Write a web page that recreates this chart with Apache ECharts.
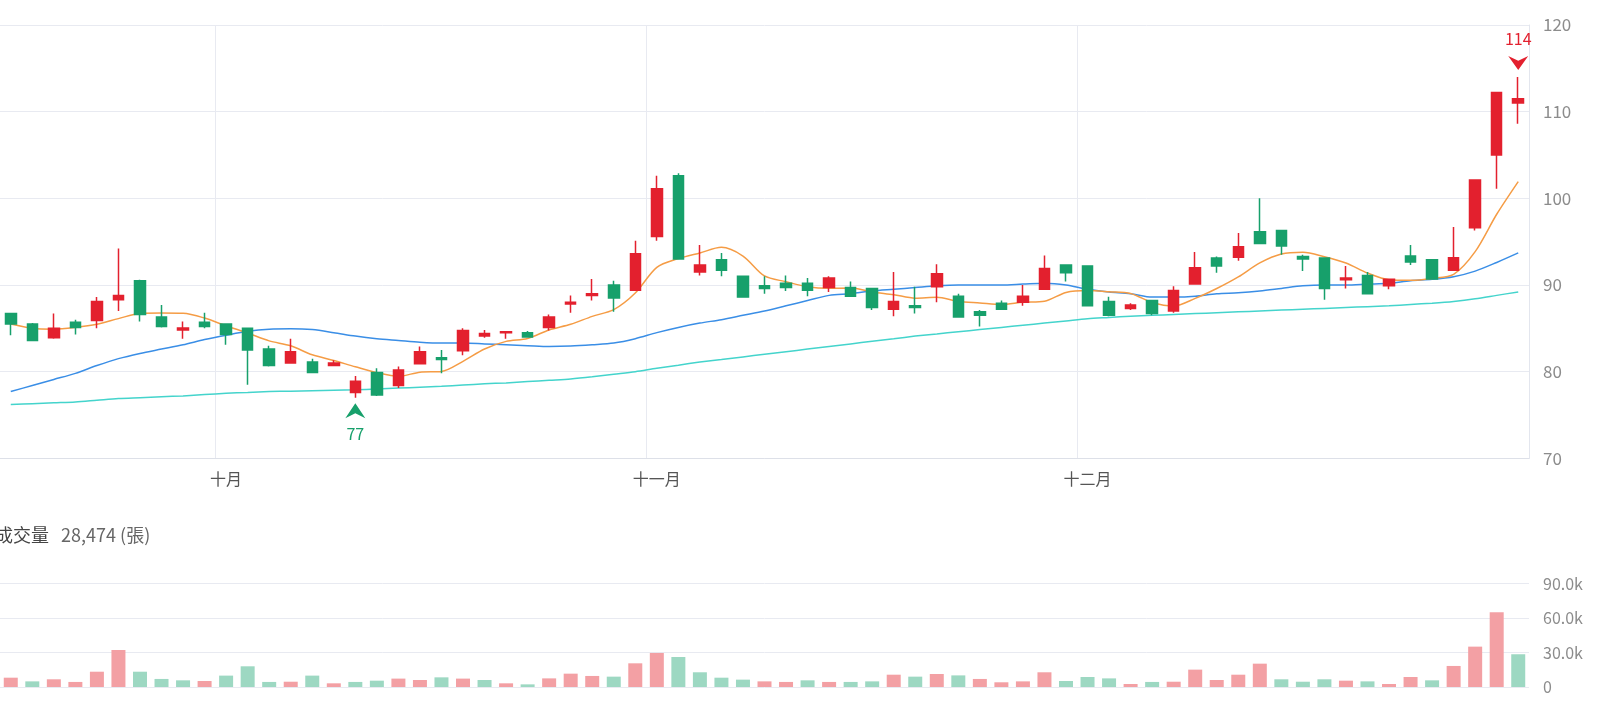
<!DOCTYPE html>
<html><head><meta charset="utf-8">
<script src="https://cdn.jsdelivr.net/npm/echarts@6/dist/echarts.min.js"></script>
<style>html,body{margin:0;padding:0;background:#fff;overflow:hidden}#c{width:1600px;height:704px}</style>
</head><body><div id="c"></div>
<script>
const dates = ['09-15','09-18','09-19','09-20','09-21','09-22','09-25','09-26','09-27','09-28',
'10-02','10-03','10-04','10-05','10-06','10-11','10-12','10-13','10-16','10-17','10-18','10-19','10-20','10-23','10-24','10-25','10-26','10-27','10-30','10-31',
'11-01','11-02','11-03','11-06','11-07','11-08','11-09','11-10','11-13','11-14','11-15','11-16','11-17','11-20','11-21','11-22','11-23','11-24','11-27','11-28',
'12-01','12-04','12-05','12-06','12-07','12-08','12-11','12-12','12-13','12-14','12-15','12-18','12-19','12-20','12-21','12-22','12-25','12-26','12-27','12-28','12-29'];
const opens = [86.7,85.5,83.9,85.7,85.9,88.3,90.5,86.3,84.8,85.7,
85.5,85.0,82.6,81.0,81.1,80.7,77.6,79.9,78.4,80.9,81.6,82.4,84.1,84.5,84.5,85.1,87.8,88.8,90.0,89.4,
95.6,102.6,91.5,92.9,91.0,89.9,90.2,90.2,89.7,89.7,89.6,87.2,87.6,89.8,88.7,86.9,87.9,88.0,89.5,92.3,
92.2,88.1,87.3,88.2,87.0,90.1,93.1,93.2,96.15,96.3,93.3,93.1,90.6,91.1,89.9,93.35,92.9,91.7,96.6,105.0,111.0];
const closes = [85.5,83.6,85.0,85.1,88.1,88.8,86.6,85.2,85.05,85.2,
84.3,82.5,80.7,82.3,79.9,81.0,78.9,77.3,80.2,82.3,81.4,84.75,84.4,84.6,84.0,86.3,88.0,89.0,88.5,93.6,
101.1,93.0,92.3,91.7,88.6,89.6,89.7,89.4,90.8,88.7,87.4,88.1,87.4,91.3,86.3,86.5,87.2,88.7,91.9,91.4,
87.6,86.5,87.7,86.7,89.35,92.0,92.2,94.4,94.8,94.5,93.0,89.6,90.8,89.0,90.65,92.65,90.7,93.15,102.1,112.2,111.5];
const lows = [84.2,83.5,83.8,84.3,85.0,87.0,85.8,85.1,83.8,85.0,
83.1,78.5,80.6,81.0,79.8,80.7,77.0,77.2,78.1,80.9,79.8,81.9,83.9,83.8,84.0,84.75,86.8,88.2,86.9,89.3,
95.1,93.0,91.1,91.0,88.6,89.0,89.3,88.7,89.2,88.6,87.1,86.4,86.7,88.0,86.3,85.2,87.2,87.6,89.5,90.4,
87.6,86.4,87.1,86.5,86.8,90.1,91.4,92.8,94.7,93.5,91.6,88.3,89.6,89.0,89.5,92.3,90.7,91.6,96.3,101.1,108.6];
const highs = [86.7,85.6,86.7,86.0,88.6,94.2,90.6,87.7,85.8,86.8,
85.5,85.0,83.0,83.8,81.5,81.3,79.5,80.4,80.6,82.9,82.5,85.0,84.8,84.6,84.7,86.6,88.8,90.7,90.5,95.1,
102.6,102.9,94.6,93.7,91.0,91.0,91.1,90.8,91.0,90.4,89.6,91.5,89.8,92.4,89.0,87.1,88.2,90.0,93.4,92.3,
92.2,88.65,87.9,88.3,89.85,93.8,93.3,96.0,100.0,96.3,93.5,93.2,92.2,91.5,90.65,94.6,92.9,96.7,102.1,112.2,114.0];
const prevClose = 85.0;
const volumes = [8100,4900,6700,4400,13300,32200,13300,7000,5800,5200,
9900,18000,4400,4600,9900,3200,4400,5500,7300,6100,8400,7300,6100,3200,2300,7500,11600,9600,9000,20600,
29600,26100,12800,8100,6400,4900,4400,5800,4400,4400,4900,10700,9000,11300,10100,7000,4100,4900,12800,5200,
8700,7500,2600,4400,4600,15100,6100,10700,20300,6700,4600,6700,5500,4900,2600,8700,5800,18300,35100,65000,28474];
const ma5 = [85.5,85.0,84.9,85.1,85.46,86.12,86.72,86.76,86.73,86.18,
85.29,84.45,83.55,82.98,81.94,81.28,80.56,79.88,79.46,79.94,80.02,81.19,82.61,83.49,83.83,84.81,85.46,86.38,87.16,89.08,
92.04,93.04,93.7,94.34,93.34,91.04,90.38,89.8,89.62,89.64,89.2,88.88,88.48,88.58,88.1,87.92,87.74,88.0,88.12,89.14,
89.36,89.22,89.02,87.98,87.57,88.45,89.59,90.93,92.55,93.58,93.78,93.26,92.54,91.38,90.61,90.54,90.76,91.23,93.85,98.16,101.93];
const ma20 = [77.7,78.4,79.1,79.8,80.7,81.5,82.1,82.6,83.1,83.7,
84.2,84.65,84.9,84.95,84.85,84.5,84.1,83.8,83.6,83.4,83.3,83.3,83.2,83.1,83.0,82.9,82.95,83.1,83.3,83.8,
84.5,85.1,85.6,86.0,86.5,87.0,87.6,88.2,88.8,89.0,89.3,89.5,89.7,89.9,90.0,90.0,90.0,90.1,90.2,90.0,
89.5,89.2,89.0,88.6,88.6,88.7,89.0,89.1,89.3,89.6,89.9,90.0,90.0,90.1,90.2,90.5,90.65,90.95,91.6,92.6,93.7];
const ma60 = [76.2,76.3,76.4,76.5,76.7,76.9,77.0,77.1,77.2,77.35,
77.5,77.6,77.7,77.75,77.8,77.85,77.9,78.0,78.1,78.2,78.3,78.45,78.6,78.7,78.85,79.0,79.15,79.4,79.7,80.0,
80.4,80.75,81.1,81.4,81.7,82.0,82.3,82.6,82.9,83.2,83.5,83.8,84.1,84.35,84.6,84.85,85.1,85.35,85.6,85.85,
86.1,86.25,86.4,86.5,86.6,86.7,86.8,86.9,87.0,87.1,87.2,87.3,87.4,87.5,87.6,87.75,87.9,88.1,88.4,88.8,89.2];
const monthNames = ['一月','二月','三月','四月','五月','六月','七月','八月','九月','十月','十一月','十二月'];

const FONT = '"Noto Sans CJK TC","Noto Sans",sans-serif';
const RED = '#e3202e', GREEN = '#17a06b', RED_V = '#f3a0a4', GREEN_V = '#9dd8c2';
const GRID_C = '#e8eaf1';
const isMonthStart = (i) => i > 0 && dates[i].slice(0, 2) !== dates[i - 1].slice(0, 2);

const chart = echarts.init(document.getElementById('c'), null, {renderer: 'canvas'});
const lastVol = volumes[volumes.length - 1];
const option = {
  animation: false,
  textStyle: {fontFamily: FONT},
  title: {
    left: -10, top: 521,
    text: '{a|成交量}   {b|' + lastVol.toLocaleString('en-US') + ' (張)}',
    textStyle: {fontWeight: 'normal', fontSize: 18, rich: {
      a: {fontSize: 18, color: '#444', fontWeight: 'normal', fontFamily: FONT},
      b: {fontSize: 18, color: '#666', fontWeight: 'normal', fontFamily: FONT}
    }}
  },
  grid: [
    {left: -1.6, right: 71, top: 25, height: 433.3},
    {left: -1.6, right: 71, top: 583.5, height: 103.5}
  ],
  xAxis: [
    {type: 'category', data: dates, gridIndex: 0, boundaryGap: true,
     axisTick: {show: false},
     axisLine: {show: true, lineStyle: {color: '#dde0e8'}},
     axisLabel: {interval: (i) => isMonthStart(i), formatter: (v) => monthNames[+v.slice(0, 2) - 1],
                 color: '#555', fontSize: 16, margin: 13},
     splitLine: {show: true, interval: (i) => isMonthStart(i), lineStyle: {color: GRID_C}}},
    {type: 'category', data: dates, gridIndex: 1, boundaryGap: true,
     axisTick: {show: false}, axisLabel: {show: false}, axisLine: {show: false}, splitLine: {show: false}}
  ],
  yAxis: [
    {type: 'value', gridIndex: 0, position: 'right', min: 70, max: 120, interval: 10,
     axisLine: {show: true, lineStyle: {color: '#e3e6ee'}},
     axisTick: {show: false},
     splitLine: {lineStyle: {color: GRID_C}},
     axisLabel: {color: '#8c8c8c', fontSize: 17, margin: 14}},
    {type: 'value', gridIndex: 1, position: 'right', min: 0, max: 90000, interval: 30000,
     axisLine: {show: false}, axisTick: {show: false},
     splitLine: {lineStyle: {color: GRID_C}},
     axisLabel: {color: '#8c8c8c', fontSize: 16, margin: 14,
                 formatter: (v) => v === 0 ? '0' : (v / 1000).toFixed(1) + 'k'}}
  ],
  series: [
    {name: 'MA60', type: 'line', data: ma60, xAxisIndex: 0, yAxisIndex: 0, smooth: 0.3, showSymbol: false,
     lineStyle: {color: '#44d4cc', width: 1.5}, z: 1},
    {name: 'MA20', type: 'line', data: ma20, xAxisIndex: 0, yAxisIndex: 0, smooth: 0.3, showSymbol: false,
     lineStyle: {color: '#3a8ee6', width: 1.5}, z: 1},
    {name: 'MA5', type: 'line', data: ma5, xAxisIndex: 0, yAxisIndex: 0, smooth: 0.3, showSymbol: false,
     lineStyle: {color: '#f59c45', width: 1.5}, z: 1},
    {name: 'K', type: 'candlestick', xAxisIndex: 0, yAxisIndex: 0, z: 3,
     data: opens.map((o, i) => [o, closes[i], lows[i], highs[i]]),
     barWidth: 11,
     itemStyle: {color: RED, color0: GREEN, borderColor: RED, borderColor0: GREEN, borderWidth: 1.5},
     markPoint: {
       data: [
         {type: 'max', valueDim: 'highest', symbol: 'path://M0,0 L10,5 L20,0 L10,15 Z', symbolSize: [20, 14],
          symbolOffset: [0, -14], itemStyle: {color: RED},
          label: {show: true, position: 'top', distance: 9, color: RED, fontSize: 16, formatter: (p) => Math.round(p.value)}},
         {type: 'min', valueDim: 'lowest', symbol: 'path://M10,0 L20,15 L10,10 L0,15 Z', symbolSize: [20, 15],
          symbolOffset: [0, 13], itemStyle: {color: GREEN},
          label: {show: true, position: 'bottom', distance: 8, color: GREEN, fontSize: 16, formatter: (p) => Math.round(p.value)}}
       ]
     }},
    {name: 'Volume', type: 'bar', xAxisIndex: 1, yAxisIndex: 1, barWidth: 14,
     data: volumes.map((v, i) => {
       const up = closes[i] >= (i === 0 ? prevClose : closes[i - 1]);
       return {value: v, itemStyle: {color: up ? RED_V : GREEN_V}};
     })}
  ]
};
chart.setOption(option);
</script>
</body></html>
